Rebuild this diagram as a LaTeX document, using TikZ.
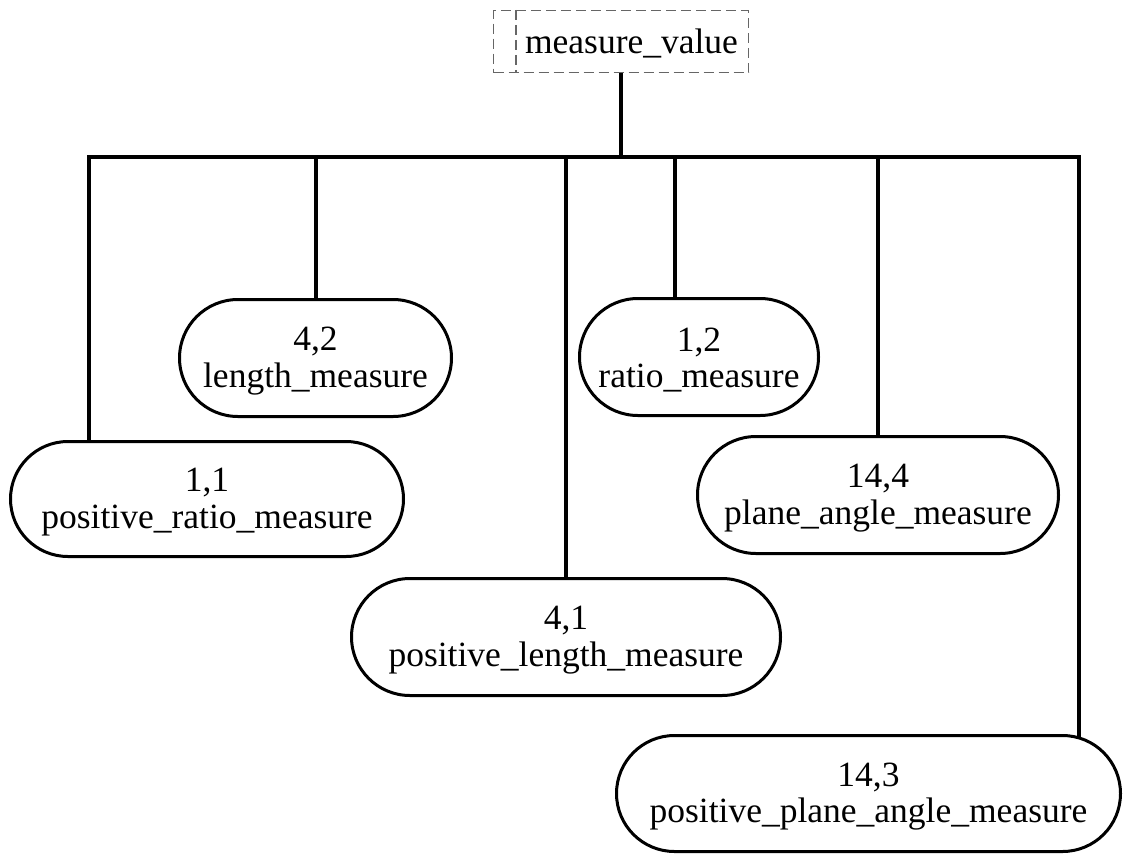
\documentclass[tikz,border=0pt]{standalone}
\usepackage{fontspec}
\setmainfont{Liberation Serif}
\usetikzlibrary{backgrounds}
\begin{document}
\begin{tikzpicture}[x=1pt,y=-1pt,
  link/.style={line width=3.4pt,line join=miter},
  entity/.style={draw,line width=3pt,fill=white,inner sep=0pt},
  etext/.style={align=center,font=\fontsize{35.5}{36.5}\selectfont,
    inner sep=0pt,yshift=-3pt},
  refbox/.style={draw=black!60,line width=1.1pt,dash pattern=on 10pt off 5pt},
  lbl/.style={font=\fontsize{35.5}{36.5}\selectfont,inner sep=0pt}]
\useasboundingbox (0,0) rectangle (1136,855);

% select type at the root
\node[refbox,minimum width=255pt,minimum height=62pt] (mv) at (621,41.5) {};
\node[lbl,anchor=base] (mvt) at (631.5,53) {measure\_value};
\draw[refbox] ([xshift=23pt]mv.north west) -- ([xshift=23pt]mv.south west);

% member types
\node[entity,minimum width=272pt,minimum height=117pt,rounded corners=58.5pt,
  label={[etext]center:4,2\\length\_measure}] (len) at (315.5,358) {};
\node[entity,minimum width=239pt,minimum height=117pt,rounded corners=58.5pt,
  label={[etext]center:1,2\\ratio\_measure}] (rat) at (699,357) {};
\node[entity,minimum width=393pt,minimum height=115pt,rounded corners=57.5pt,
  label={[etext]center:1,1\\positive\_ratio\_measure}] (prat) at (207,499) {};
\node[entity,minimum width=361pt,minimum height=117pt,rounded corners=58.5pt,
  label={[etext]center:14,4\\plane\_angle\_measure}] (pla) at (878,495) {};
\node[entity,minimum width=429pt,minimum height=117pt,rounded corners=58.5pt,
  label={[etext]center:4,1\\positive\_length\_measure}] (plen) at (566,637) {};
\node[entity,minimum width=504pt,minimum height=116pt,rounded corners=58pt,
  label={[etext]center:14,3\\positive\_plane\_angle\_measure}] (ppla) at (868.5,793.5) {};

% bus taps
\coordinate (j)  at (621,157);
\coordinate (b1) at (89,157);
\coordinate (b2) at (316,157);
\coordinate (b3) at (566,157);
\coordinate (b4) at (675,157);
\coordinate (b5) at (878,157);
\coordinate (b6) at (1079,157);

\begin{scope}[on background layer]
  \draw[link] (mv.south) -- (j);
  \draw[link] (b1 |- prat.center) -- (b1) -- (b6) -- (b6 |- ppla.center);
  \draw[link] (b2) -- (b2 |- len.center);
  \draw[link] (b3) -- (b3 |- plen.center);
  \draw[link] (b4) -- (b4 |- rat.center);
  \draw[link] (b5) -- (b5 |- pla.center);
\end{scope}
\end{tikzpicture}
\end{document}
